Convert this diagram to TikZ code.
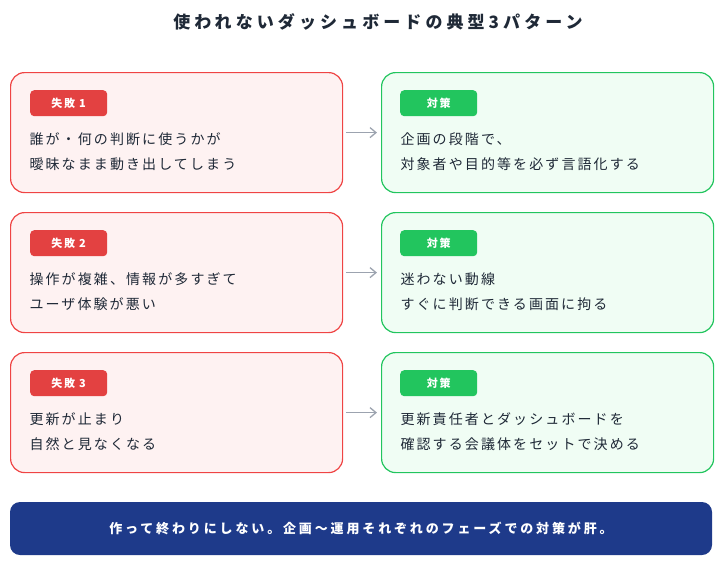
\documentclass[tikz,border=0pt]{standalone}
\usepackage{fontspec}
\setmainfont{Noto Sans CJK JP}
\usetikzlibrary{arrows.meta}
\definecolor{rb}{HTML}{EF4444}\definecolor{rf}{HTML}{FEF2F2}
\definecolor{gb}{HTML}{22C55E}\definecolor{gf}{HTML}{F0FDF4}
\definecolor{nv}{HTML}{1E3A8A}\definecolor{tx}{HTML}{1F2937}
\definecolor{ag}{HTML}{9CA3AF}
\begin{document}
\begin{tikzpicture}[x=1pt,y=-1pt,
 box/.style={draw=#1,line width=1.2pt,rounded corners=14pt,minimum width=332pt,minimum height=120pt,anchor=north west},
 tag/.style={fill=#1,rounded corners=4pt,minimum width=77pt,minimum height=26pt,anchor=north west,text=white,font=\fontsize{11}{13}\selectfont\bfseries\addfontfeatures{LetterSpace=15}},
 body/.style={anchor=north west,align=left,text=tx,font=\fontsize{14}{25}\selectfont\addfontfeatures{LetterSpace=15}},
 arr/.style={draw=ag,line width=1.3pt,-{Straight Barb[length=6pt,width=10pt]}}]
\useasboundingbox (0,0) rectangle (720,565);
\node[text=tx,font=\fontsize{17}{19}\selectfont\bfseries\addfontfeatures{LetterSpace=24}] (title) at (378,22) {使われないダッシュボードの典型3パターン};
\foreach \i/\y/\ta/\tb/\tc in {1/72/失敗 1/{誰が・何の判断に使うかが\\曖昧なまま動き出してしまう}/{企画の段階で、\\対象者や目的等を必ず言語化する},
 2/212/失敗 2/{操作が複雑、情報が多すぎて\\ユーザ体験が悪い}/{迷わない動線\\すぐに判断できる画面に拘る},
 3/352/失敗 3/{更新が止まり\\自然と見なくなる}/{更新責任者とダッシュボードを\\確認する会議体をセットで決める}}{
 \node[box=rb,fill=rf] (L\i) at (10,\y) {};
 \node[box=gb,fill=gf] (R\i) at (381,\y) {};
 \node[tag=rb!95!black] (lt\i) at (30,\y+18) {\ta};
 \node[tag=gb] (rt\i) at (400,\y+18) {対策};
 \node[body] (lb\i) at (26,\y+57) {\tb};
 \node[body] (rb\i) at (397,\y+57) {\tc};
 \draw[arr] (L\i.east)++(3,0) -- ([xshift=-4pt]R\i.west);
}
\node[fill=nv,rounded corners=10pt,minimum width=702pt,minimum height=53pt,text=white,font=\fontsize{13}{15}\selectfont\bfseries\addfontfeatures{LetterSpace=22}] (ban) at (361,528.5) {作って終わりにしない。企画〜運用それぞれのフェーズでの対策が肝。};
\end{tikzpicture}
\end{document}
